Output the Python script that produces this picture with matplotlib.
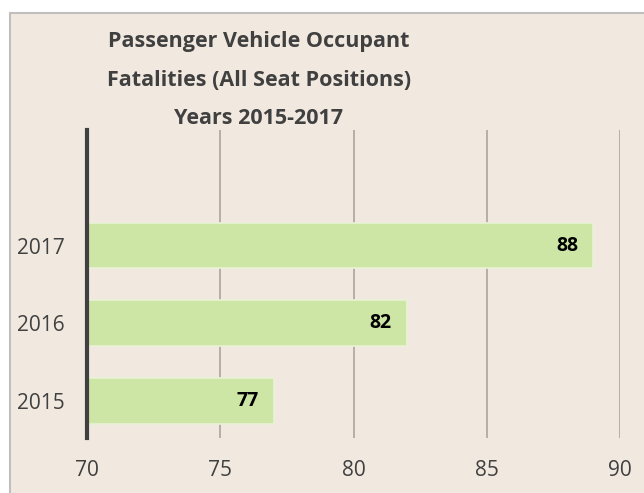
import matplotlib.pyplot as plt
from matplotlib.patches import Rectangle

years = ['2015', '2016', '2017']
bar_values = [77, 82, 89]
label_values = [77, 82, 88]
x_ticks = [70, 75, 80, 85, 90]

bg = '#F1E9DF'
text_col = '#404040'

plt.rcParams['font.family'] = ['Open Sans', 'DejaVu Sans']

fig = plt.figure(figsize=(6.44, 4.93), dpi=100)
fig.patch.set_facecolor('white')

# chart area with grey border
fig.patches.append(Rectangle((10 / 644, -0.1), 1.2, 1 - 13 / 493 + 0.1,
                             transform=fig.transFigure, facecolor=bg,
                             edgecolor='#BFBFBF', linewidth=1.5, zorder=-1))

ax = fig.add_axes([87 / 644, 1 - 438 / 493, (620 - 87) / 644, (438 - 130) / 493])
ax.set_facecolor('none')
ax.set_zorder(1)

ypos = list(range(len(years)))
ax.barh(ypos, [v - 70 for v in bar_values], left=70, height=0.59,
        color='#CDE5A5', edgecolor='#E8F2D6', linewidth=1.2, zorder=3)

for y, b, lab in zip(ypos, bar_values, label_values):
    ax.annotate(str(lab), (b, y), xytext=(-11, 0), textcoords='offset points',
                ha='right', va='center', fontsize=14, fontweight='bold',
                color='black', zorder=4)

ax.set_xlim(70, 90)
ax.set_ylim(-0.48, 3.49)
ax.set_xticks(x_ticks)
ax.set_xticklabels([str(t) for t in x_ticks], fontsize=15, color=text_col)
ax.set_yticks(ypos)
ax.set_yticklabels(years, fontsize=15, color=text_col)
ax.tick_params(length=0, pad=16)
ax.tick_params(axis='x', pad=16)

ax.grid(axis='x', color='#ADA59E', linewidth=1.2, zorder=1)
for s in ['top', 'right', 'bottom']:
    ax.spines[s].set_visible(False)
ax.spines['left'].set_color(text_col)
ax.spines['left'].set_linewidth(3)
ax.spines['left'].set_zorder(5)

fig.text(259 / 644, 1 - 80 / 493,
         'Passenger Vehicle Occupant\nFatalities (All Seat Positions)\nYears 2015-2017',
         ha='center', va='center', fontsize=15.5, fontweight='bold',
         color=text_col, linespacing=2.1)

fig.savefig('out.png', dpi=100, facecolor=fig.get_facecolor())
